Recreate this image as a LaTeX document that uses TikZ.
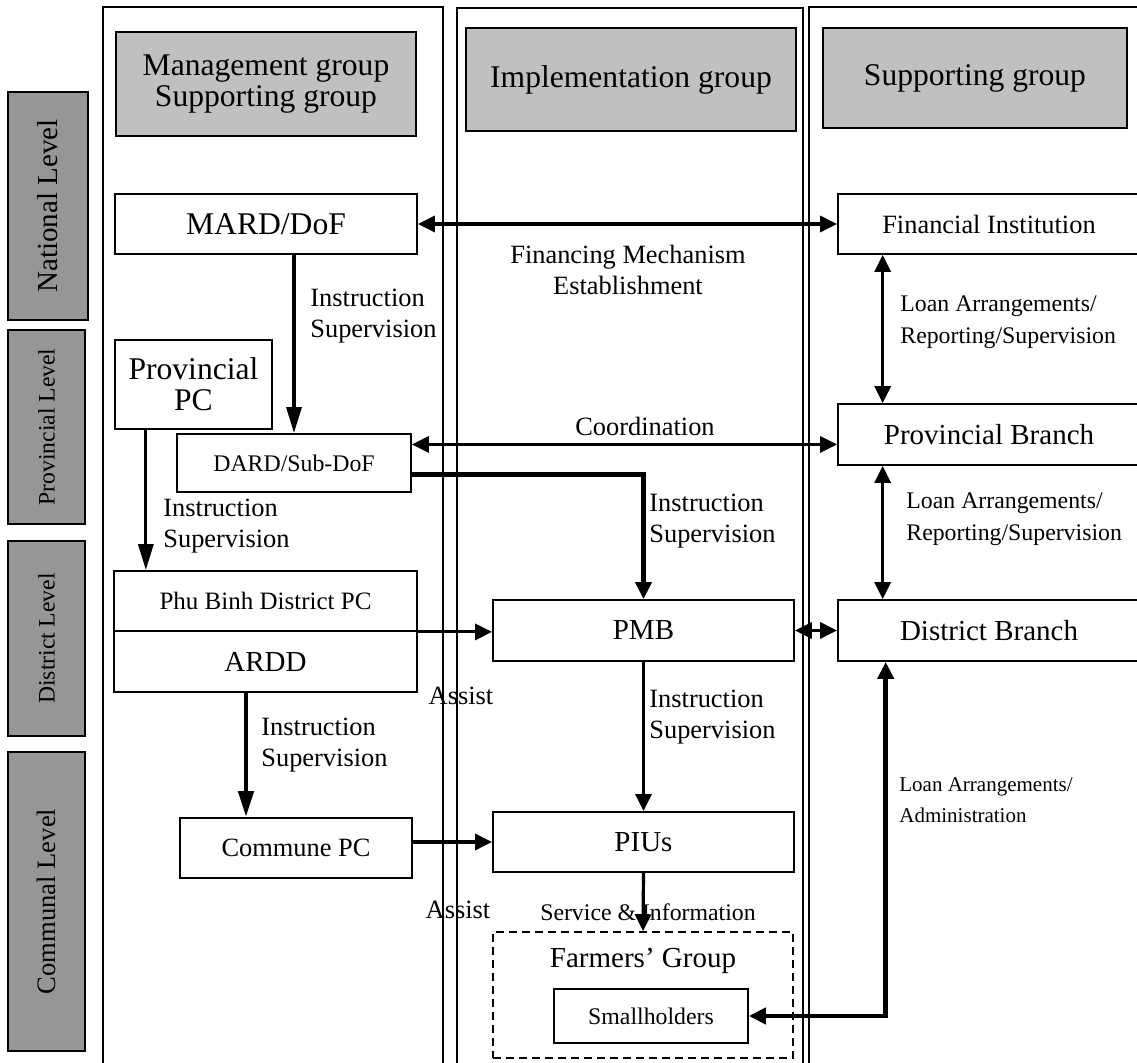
\documentclass[tikz,border=0pt]{standalone}
\usepackage{fontspec}
\setmainfont{Liberation Serif}
\usetikzlibrary{arrows.meta, positioning, calc}
\definecolor{hdgray}{HTML}{C0C0C0}
\definecolor{lvgray}{HTML}{969696}

\begin{document}
\begin{tikzpicture}[x=0.5pt, y=-0.5pt,
    box/.style={draw, line width=0.9pt, fill=white, inner sep=0pt, align=center},
    hd/.style={box, fill=hdgray},
    lv/.style={box, fill=lvgray, rotate=90},
    sz/.style 2 args={minimum width={(#1)*0.5pt}, minimum height={(#2)*0.5pt}},
    frame/.style={draw, line width=0.8pt},
    bigtxt/.style={font=\fontsize{15.8}{15.5}\selectfont},
    midtxt/.style={font=\fontsize{14.5}{15.5}\selectfont},
    labtxt/.style={font=\fontsize{13.2}{15.5}\selectfont},
    smltxt/.style={font=\fontsize{11.9}{16}\selectfont},
    tnytxt/.style={font=\fontsize{10.5}{15.5}\selectfont},
    note/.style={anchor=west, align=left, inner sep=0pt},
    arr/.style={line width=1.6pt, -{Triangle[length=8.5pt,width=8pt]}},
    longarr/.style={line width=1.6pt, -{Triangle[length=13pt,width=7.5pt]}},
    biarr/.style={line width=1.6pt, {Triangle[length=8.5pt,width=8pt]}-{Triangle[length=8.5pt,width=8pt]}},
    thk/.style={line width=2.4pt},
]
\useasboundingbox (0,0) rectangle (1137,1063);

% the three column frames
\foreach \xl/\xr/\yt in {103/443/7, 457/803/8, 809/1170/7}{
    \draw[frame] (\xl,1090) -- (\xl,\yt) -- (\xr,\yt) -- (\xr,1090);
}

% group headers
\node[hd, bigtxt, sz={300}{104}] (hdman) at (266,84) {Management group\\Supporting group};
\node[hd, bigtxt, sz={330}{103}] (hdimp) at (631,79.5) {Implementation group};
\node[hd, bigtxt, sz={304}{100}] (hdsup) at (975,78) {Supporting group};

% level bars on the left
\foreach \nm/\yt/\yb/\w/\fs/\txt in {nat/92/320/80/14.5/National Level,
                                     pro/330/524/77/11.8/Provincial Level,
                                     dis/541/736/77/11.8/District Level,
                                     com/752/1051/77/13.3/Communal Level}{
    \node[lv, font=\fontsize{\fs}{\fs}\selectfont, sz={\yb-\yt}{\w}]
        (lv\nm) at ({8+\w/2}, {(\yt+\yb)/2}) {\txt};
}

% management column
\node[box, bigtxt, sz={302}{60}] (mard) at (266,224) {MARD/DoF};
\node[box, bigtxt, sz={157}{89}] (ppc) at (193.5,384.5) {Provincial\\PC};
\node[box, smltxt, sz={234}{58}] (dard) at (294,463) {DARD/Sub-DoF};
\node[box, font=\fontsize{12.5}{14}\selectfont, sz={303}{60}] (phu) at (265.5,601) {Phu Binh District PC};
\node[box, midtxt, sz={303}{61}] (ardd) at (265.5,661.5) {ARDD};
\node[box, labtxt, sz={232}{60}] (commune) at (296,848) {Commune PC};

% implementation column
\node[box, midtxt, sz={301}{61}] (pmb) at (643.5,630.5) {PMB};
\node[box, midtxt, sz={301}{60}] (pius) at (643.5,842) {PIUs};
\node[draw, dashed, line width=0.8pt, dash pattern=on 4pt off 2.5pt, inner sep=0pt, sz={300}{126}] (farm) at (643,995) {};
\node[midtxt] (farmtxt) at (643,961) {Farmers’ Group};
\node[box, smltxt, sz={194}{54}] (small) at (651,1016) {Smallholders};

% supporting column
\node[box, labtxt, sz={302}{60}] (fin) at (989,224) {Financial Institution};
\node[box, midtxt, sz={302}{61}] (pbr) at (989,434.5) {Provincial Branch};
\node[box, midtxt, sz={302}{61}] (dbr) at (989,630.5) {District Branch};

% labels
\node[labtxt, align=center] (lbfin) at (628,270) {Financing Mechanism\\Establishment};
\node[labtxt] (lbcoord) at (645,426) {Coordination};
\node[labtxt, note] (lbmard) at (310,316) {Instruction\\Supervision};
\node[labtxt, note] (lbppc) at (163,526) {Instruction\\Supervision};
\node[labtxt, note] (lbdard) at (649,521) {Instruction\\Supervision};
\node[labtxt, note] (lbpmb) at (649,717) {Instruction\\Supervision};
\node[labtxt, note] (lbardd) at (261,745) {Instruction\\Supervision};
\node[smltxt, note] (lbloana) at (900,322) {Loan Arrangements/\\Reporting/Supervision};
\node[smltxt, note] (lbloanb) at (906,519) {Loan Arrangements/\\Reporting/Supervision};
\node[tnytxt, note] (lbloanc) at (899,800) {Loan Arrangements/\\Administration};
\node[labtxt] (lbassa) at (461,696) {Assist};
\node[labtxt] (lbassb) at (458,910) {Assist};
\node[smltxt] (lbserv) at (648,912) {Service \& Information};

% connectors
\draw[biarr] (mard.east) -- (fin.west);
\draw[longarr] (mard.south -| dard.north) -- (dard.north);
\coordinate (ppcfoot) at ($(ppc.south west)!0.2!(ppc.south east)$);
\draw[longarr] (ppcfoot) -- (ppcfoot |- phu.north);
\coordinate (dardside) at ($(dard.north east)!0.19!(dard.south east)$);
\draw[biarr] (dardside) -- (dardside -| pbr.west);
\coordinate (dardout) at ($(dard.north east)!0.69!(dard.south east)$);
\draw[arr, thk] (dardout) -| (pmb.north);
\coordinate (finfoot) at ($(fin.south west)!0.15!(fin.south east)$);
\draw[biarr] (finfoot) -- (finfoot |- pbr.north);
\coordinate (pbrfoot) at ($(pbr.south west)!0.15!(pbr.south east)$);
\draw[biarr] (pbrfoot) -- (pbrfoot |- dbr.north);
\draw[arr] (phu.south east) -- (phu.south east -| pmb.west);
\draw[biarr] (pmb.east) -- (dbr.west);
\draw[arr] (pmb.south) -- (pius.north);
\coordinate (arddfoot) at ($(ardd.south west)!0.436!(ardd.south east)$);
\draw[longarr, thk] (arddfoot) -- (arddfoot |- commune.north);
\draw[arr] (commune.east |- pius.west) -- (pius.west);
\draw[arr] (pius.south) -- (farm.north);
\coordinate (loanx) at ($(dbr.south west)!0.16!(dbr.south east)$);
\draw[biarr, thk] (small.east) -| (loanx);
\end{tikzpicture}
\end{document}
